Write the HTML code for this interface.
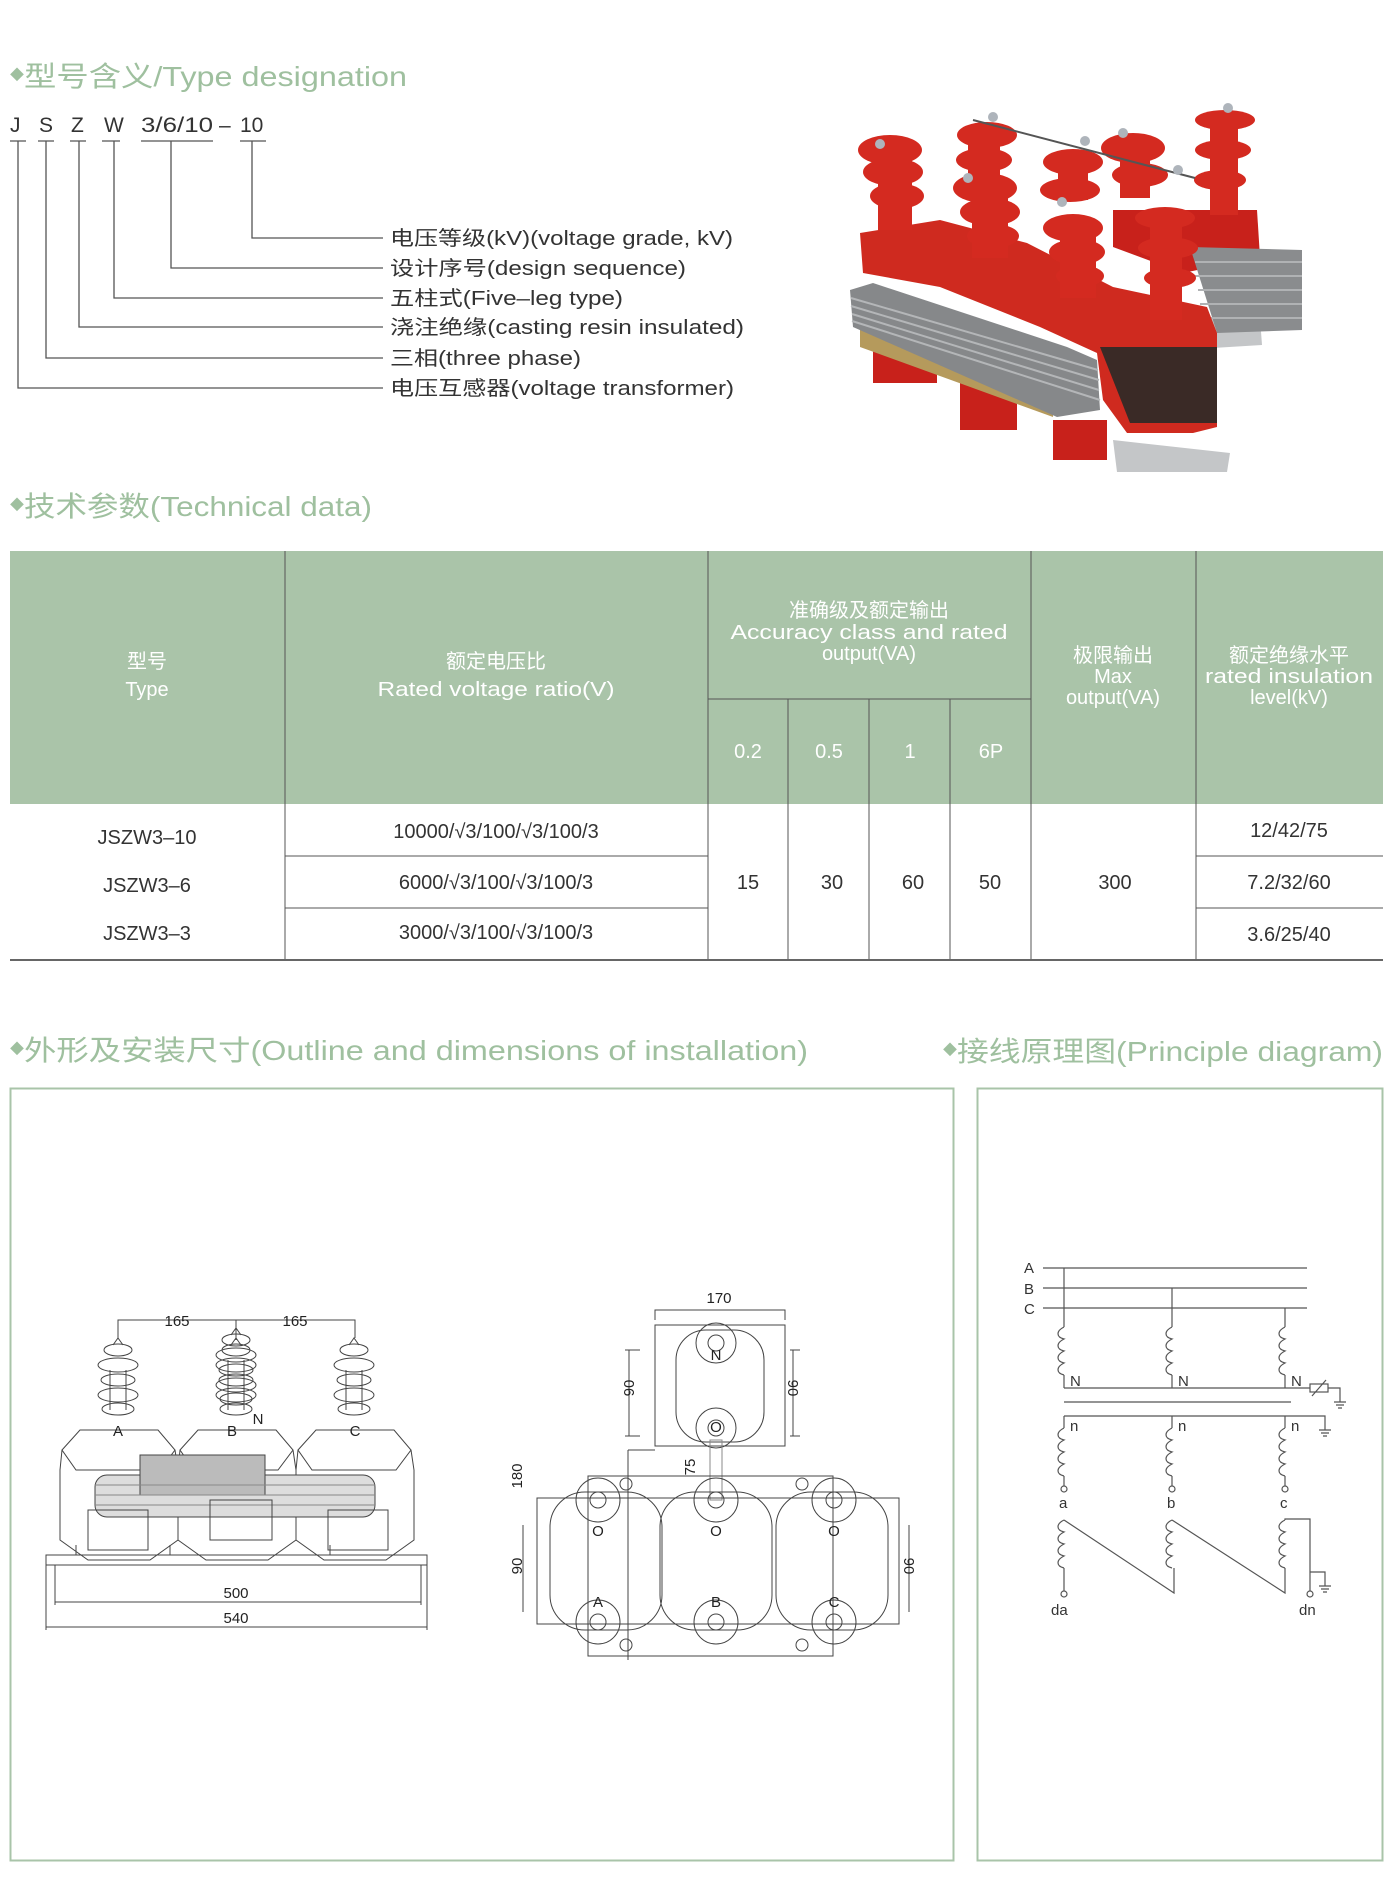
<!DOCTYPE html>
<html><head><meta charset="utf-8"><style>
html,body{margin:0;padding:0;background:#fff;}
svg{display:block;}
text{font-family:"Liberation Sans","Noto Sans CJK SC",sans-serif;}
</style></head><body>
<svg width="1394" height="1898" viewBox="0 0 1394 1898" xmlns="http://www.w3.org/2000/svg">
<!-- Section titles -->
<g fill="#9fc09f" font-size="28">
<text x="10" y="86"><tspan font-size="14" dy="-6">◆</tspan><tspan dy="6" textLength="383" lengthAdjust="spacingAndGlyphs">型号含义/Type designation</tspan></text>
<text x="10" y="516"><tspan font-size="14" dy="-6">◆</tspan><tspan dy="6" textLength="348" lengthAdjust="spacingAndGlyphs">技术参数(Technical data)</tspan></text>
<text x="10" y="1060"><tspan font-size="14" dy="-6">◆</tspan><tspan dy="6" textLength="784" lengthAdjust="spacingAndGlyphs">外形及安装尺寸(Outline and dimensions of installation)</tspan></text>
<text x="943" y="1061"><tspan font-size="14" dy="-6">◆</tspan><tspan dy="6" textLength="426" lengthAdjust="spacingAndGlyphs">接线原理图(Principle diagram)</tspan></text>
</g>
<!-- Type designation -->
<g fill="#333" font-size="21">
<text x="10" y="132">J</text><text x="39" y="132">S</text><text x="71" y="132">Z</text><text x="104" y="132">W</text>
<text x="141" y="132" textLength="72" lengthAdjust="spacingAndGlyphs">3/6/10</text>
<text x="219" y="132">–</text><text x="240" y="132">10</text>
</g>
<g stroke="#555" stroke-width="1.3" fill="none">
<path d="M10 141h16M38 141h16M70 141h16M102 141h18M141 141h72M240 141h26"/>
<path d="M252 141V238H383M171 141V268H383M114 141V298H383M79 141V327H383M46 141V358H383M18 141V388H383"/>
</g>
<g fill="#333" font-size="20">
<text x="390" y="245" textLength="343" lengthAdjust="spacingAndGlyphs">电压等级(kV)(voltage grade, kV)</text>
<text x="390" y="275" textLength="296" lengthAdjust="spacingAndGlyphs">设计序号(design sequence)</text>
<text x="390" y="305" textLength="233" lengthAdjust="spacingAndGlyphs">五柱式(Five–leg type)</text>
<text x="390" y="334" textLength="354" lengthAdjust="spacingAndGlyphs">浇注绝缘(casting resin insulated)</text>
<text x="390" y="365" textLength="191" lengthAdjust="spacingAndGlyphs">三相(three phase)</text>
<text x="390" y="395" textLength="344" lengthAdjust="spacingAndGlyphs">电压互感器(voltage transformer)</text>
</g>
<!-- Photo -->
<g>
<polygon points="1113,440 1230,453 1227,472 1117,472" fill="#c4c6c8"/>
<polygon points="1175,320 1260,318 1262,345 1180,350" fill="#c4c6c8"/>
<polygon points="1113,210 1257,210 1260,257 1183,273 1113,247" fill="#c8211b"/>
<polygon points="1190,247 1302,250 1302,330 1217,333" fill="#8a8c8e"/>
<path d="M1195,262 H1302 M1195,276 H1302 M1198,290 H1302 M1200,304 H1302 M1205,318 H1302" stroke="#b0b2b4" stroke-width="2"/>
<polygon points="873,347 937,347 937,383 873,383" fill="#c8211b"/>
<polygon points="960,380 1017,380 1017,430 960,430" fill="#c8211b"/>
<polygon points="1053,420 1107,420 1107,460 1053,460" fill="#c8211b"/>
<polygon points="860,233 940,220 1027,243 1113,287 1207,307 1217,333 1217,427 1193,433 1127,433 1103,400 1097,353 1040,327 940,287 863,273" fill="#cf2a1f"/>
<polygon points="860,327 1053,393 1053,417 860,347" fill="#b59a5c"/>
<polygon points="850,290 873,283 1067,347 1097,360 1100,410 1057,417 853,327" fill="#86888a"/>
<path d="M851,298 L1098,370 M851,306 L1099,380 M852,314 L1099,390 M852,321 L1100,400" stroke="#b4b6b8" stroke-width="2"/>
<polygon points="1100,347 1217,347 1217,423 1130,423" fill="#3a2a26"/>
<g fill="#d42a20">
<ellipse cx="890" cy="150" rx="32" ry="15"/><ellipse cx="893" cy="172" rx="30" ry="14"/><ellipse cx="897" cy="196" rx="27" ry="13"/><rect x="878" y="150" width="34" height="80"/>
<ellipse cx="987" cy="135" rx="30" ry="13"/><ellipse cx="984" cy="160" rx="28" ry="12"/><rect x="968" y="135" width="32" height="40"/>
<ellipse cx="985" cy="188" rx="32" ry="15"/><ellipse cx="990" cy="212" rx="30" ry="14"/><ellipse cx="993" cy="236" rx="26" ry="12"/><rect x="972" y="188" width="36" height="70"/>
<ellipse cx="1073" cy="162" rx="30" ry="13"/><ellipse cx="1070" cy="190" rx="30" ry="12"/><rect x="1058" y="160" width="30" height="40"/>
<ellipse cx="1073" cy="228" rx="30" ry="14"/><ellipse cx="1077" cy="252" rx="28" ry="13"/><ellipse cx="1080" cy="276" rx="24" ry="11"/><rect x="1060" y="228" width="36" height="70"/>
<ellipse cx="1133" cy="148" rx="32" ry="15"/><ellipse cx="1140" cy="175" rx="28" ry="12"/><rect x="1120" y="148" width="30" height="50"/>
<ellipse cx="1225" cy="120" rx="30" ry="10"/><ellipse cx="1223" cy="150" rx="28" ry="10"/><ellipse cx="1220" cy="180" rx="26" ry="10"/><rect x="1210" y="115" width="28" height="100"/>
<ellipse cx="1165" cy="218" rx="30" ry="11"/><ellipse cx="1168" cy="248" rx="30" ry="11"/><ellipse cx="1170" cy="278" rx="26" ry="10"/><rect x="1150" y="210" width="32" height="110"/>
</g>
<path d="M973,120 L1195,178" stroke="#555" stroke-width="2"/>
<g fill="#aeb4bb"><circle cx="880" cy="144" r="5"/><circle cx="993" cy="117" r="5"/><circle cx="968" cy="178" r="5"/><circle cx="1085" cy="141" r="5"/><circle cx="1062" cy="202" r="5"/><circle cx="1123" cy="133" r="5"/><circle cx="1228" cy="108" r="5"/><circle cx="1178" cy="170" r="5"/></g>
</g>
<!-- Table -->
<rect x="10" y="551" width="1373" height="253" fill="#aac4a9"/>
<g stroke="#555" stroke-width="1">
<path d="M285 551V960M708 551V960M1031 551V960M1196 551V960"/>
<path d="M788 699V960M869 699V960M950 699V960M708 699H1031"/>
<path d="M285 856H708M285 908H708M1196 856H1383M1196 908H1383"/>
</g>
<path d="M10 960H1383" stroke="#666" stroke-width="2"/>
<g fill="#fff" font-size="20" text-anchor="middle">
<text x="147" y="668">型号</text><text x="147" y="696">Type</text>
<text x="496" y="668">额定电压比</text><text x="496" y="696" textLength="237" lengthAdjust="spacingAndGlyphs">Rated voltage ratio(V)</text>
<text x="869" y="617">准确级及额定输出</text>
<text x="869" y="639" textLength="277" lengthAdjust="spacingAndGlyphs">Accuracy class and rated</text>
<text x="869" y="660">output(VA)</text>
<text x="1113" y="662">极限输出</text><text x="1113" y="683">Max</text><text x="1113" y="704">output(VA)</text>
<text x="1289" y="662">额定绝缘水平</text>
<text x="1289" y="683" textLength="168" lengthAdjust="spacingAndGlyphs">rated insulation</text>
<text x="1289" y="704">level(kV)</text>
<text x="748" y="758">0.2</text><text x="829" y="758">0.5</text><text x="910" y="758">1</text><text x="991" y="758">6P</text>
</g>
<g fill="#333" font-size="20" text-anchor="middle">
<text x="147" y="844">JSZW3–10</text><text x="147" y="892">JSZW3–6</text><text x="147" y="940">JSZW3–3</text>
<text x="496" y="838">10000/√3/100/√3/100/3</text>
<text x="496" y="889">6000/√3/100/√3/100/3</text>
<text x="496" y="939">3000/√3/100/√3/100/3</text>
<text x="748" y="889">15</text><text x="832" y="889">30</text><text x="913" y="889">60</text><text x="990" y="889">50</text>
<text x="1115" y="889">300</text>
<text x="1289" y="837">12/42/75</text><text x="1289" y="889">7.2/32/60</text><text x="1289" y="941">3.6/25/40</text>
</g>
<!-- boxes -->
<rect x="10.5" y="1088.5" width="943" height="772" fill="none" stroke="#a9c4a9" stroke-width="2"/>
<rect x="977.5" y="1088.5" width="405" height="772" fill="none" stroke="#a9c4a9" stroke-width="2"/>
<!-- Left drawing: front view -->
<g stroke="#444" stroke-width="1" fill="none">
<path d="M118 1338V1320H355V1338M236 1320V1340"/>
<g id="ins">
<path d="M110 1410 V1370 M126 1410 V1370"/>
<ellipse cx="118" cy="1350" rx="14" ry="6"/><ellipse cx="118" cy="1365" rx="20" ry="7"/><ellipse cx="118" cy="1380" rx="17" ry="6"/><ellipse cx="118" cy="1395" rx="20" ry="7"/><ellipse cx="118" cy="1409" rx="16" ry="6"/>
<path d="M113 1345 L118 1338 L123 1345"/>
</g>
<use href="#ins" x="236"/><use href="#ins" x="118"/><use href="#ins" x="118" y="-10"/>
<path d="M62 1450 L80 1430 H158 L175 1450 L160 1470 H76 Z"/>
<path d="M180 1450 L198 1430 H276 L293 1450 L278 1470 H194 Z"/>
<path d="M298 1450 L316 1430 H394 L411 1450 L396 1470 H312 Z"/>
<path d="M62 1450 L60 1470 V1540 L88 1560 H150 L178 1540 V1470 L175 1450"/>
<path d="M298 1450 L296 1470 V1540 L324 1560 H386 L414 1540 V1470 L411 1450"/>
<path d="M180 1450 L178 1470 V1540 L206 1560 H268 L296 1540 V1470 L293 1450"/>
<rect x="95" y="1475" width="280" height="42" rx="12" fill="#ddd"/>
<rect x="140" y="1455" width="125" height="40" fill="#bbb"/>
<path d="M95 1485H375M95 1495H375M95 1505H375" stroke="#888"/>
<rect x="88" y="1510" width="60" height="40"/><rect x="328" y="1510" width="60" height="40"/><rect x="210" y="1500" width="62" height="40"/>
<path d="M46 1555 H427 V1565 H46 Z"/>
<path d="M76 1545 V1555 M170 1545 V1555 M330 1545 V1555"/>
<path d="M55 1565V1605M421 1565V1605M55 1602H421M46 1565V1630M427 1565V1630M46 1627H427"/>
</g>
<g fill="#222" font-size="15" text-anchor="middle">
<text x="177" y="1326">165</text><text x="295" y="1326">165</text>
<text x="118" y="1436">A</text><text x="232" y="1436">B</text><text x="258" y="1424">N</text><text x="355" y="1436">C</text>
<text x="236" y="1598">500</text><text x="236" y="1623">540</text>
</g>
<!-- Right drawing: top view -->
<g stroke="#444" stroke-width="1" fill="none">
<path d="M655 1320V1310H785V1320"/>
<rect x="655" y="1325" width="130" height="121"/>
<rect x="676" y="1330" width="88" height="112" rx="30"/>
<circle cx="716" cy="1343" r="20"/><circle cx="716" cy="1343" r="8"/>
<circle cx="716" cy="1428" r="20"/><circle cx="716" cy="1428" r="8"/>
<path d="M629 1350V1436M793 1350V1436M625 1350H640M625 1436H640M790 1350H800M790 1436H800"/>
<rect x="710" y="1440" width="12" height="60" stroke="#888"/>
<path d="M628 1450 H655 M628 1450 V1660"/>
<rect x="588" y="1476" width="245" height="180"/>
<rect x="537" y="1498" width="362" height="126"/>
<rect x="550" y="1492" width="112" height="138" rx="35"/><rect x="660" y="1492" width="112" height="138" rx="35"/><rect x="776" y="1492" width="112" height="138" rx="35"/>
<g id="pp"><circle cx="598" cy="1500" r="22"/><circle cx="598" cy="1500" r="8"/><circle cx="598" cy="1622" r="22"/><circle cx="598" cy="1622" r="8"/></g>
<use href="#pp" x="118"/><use href="#pp" x="236"/>
<circle cx="626" cy="1484" r="6"/><circle cx="802" cy="1484" r="6"/><circle cx="626" cy="1645" r="6"/><circle cx="802" cy="1645" r="6"/>
<path d="M523 1525V1612M909 1525V1612"/>
</g>
<g fill="#222" font-size="15" text-anchor="middle">
<text x="719" y="1303">170</text><text x="716" y="1360">N</text><text x="716" y="1432">O</text>
<text x="598" y="1536">O</text><text x="716" y="1536">O</text><text x="834" y="1536">O</text>
<text x="598" y="1607">A</text><text x="716" y="1607">B</text><text x="834" y="1607">C</text>
<text transform="translate(634,1388) rotate(-90)">90</text>
<text transform="translate(788,1388) rotate(90)">90</text>
<text transform="translate(695,1467) rotate(-90)">75</text>
<text transform="translate(522,1476) rotate(-90)">180</text>
<text transform="translate(522,1566) rotate(-90)">90</text>
<text transform="translate(904,1566) rotate(90)">90</text>
</g>
<!-- Principle diagram -->
<g stroke="#555" stroke-width="1.2" fill="none">
<path d="M1043 1268H1307M1043 1288H1307M1043 1308H1307"/>
<path d="M1064 1268V1327M1172 1288V1327M1285 1308V1327"/>
<g id="coil"><path d="M1064 1327 c-8 4 -8 10 0 12 c-8 4 -8 10 0 12 c-8 4 -8 10 0 12 c-8 4 -8 10 0 12"/></g>
<use href="#coil" x="108"/><use href="#coil" x="221"/>
<path d="M1064 1375V1388M1172 1375V1388M1285 1375V1388M1064 1388H1310"/>
<rect x="1310" y="1384" width="18" height="8"/><path d="M1312 1396L1326 1380M1328 1388H1340V1402M1334 1402H1346M1336 1405H1344M1338 1408H1342"/>
<path d="M1064 1402H1291"/>
<path d="M1064 1416H1325V1430M1319 1430H1331M1321 1433H1329M1323 1436H1327"/>
<path d="M1064 1416V1428M1172 1416V1428M1285 1416V1428"/>
<use href="#coil" y="101"/><use href="#coil" x="108" y="101"/><use href="#coil" x="221" y="101"/>
<path d="M1064 1476V1486M1172 1476V1486M1285 1476V1486"/>
<circle cx="1064" cy="1489" r="3"/><circle cx="1172" cy="1489" r="3"/><circle cx="1285" cy="1489" r="3"/>
<use href="#coil" y="193"/><use href="#coil" x="108" y="193"/><use href="#coil" x="221" y="193"/>
<path d="M1064 1520L1174 1593V1568M1172 1520L1285 1593V1568M1064 1568V1591M1285 1520V1519H1310V1591"/>
<path d="M1310 1572H1325V1586M1319 1586H1331M1321 1589H1329M1323 1592H1327"/>
<circle cx="1064" cy="1594" r="3"/><circle cx="1310" cy="1594" r="3"/>
</g>
<g fill="#333" font-size="15">
<text x="1024" y="1273">A</text><text x="1024" y="1294">B</text><text x="1024" y="1314">C</text>
<text x="1070" y="1386">N</text><text x="1178" y="1386">N</text><text x="1291" y="1386">N</text>
<text x="1070" y="1431">n</text><text x="1178" y="1431">n</text><text x="1291" y="1431">n</text>
<text x="1059" y="1508">a</text><text x="1167" y="1508">b</text><text x="1280" y="1508">c</text>
<text x="1051" y="1615">da</text><text x="1299" y="1615">dn</text>
</g>
</svg>
</body></html>
